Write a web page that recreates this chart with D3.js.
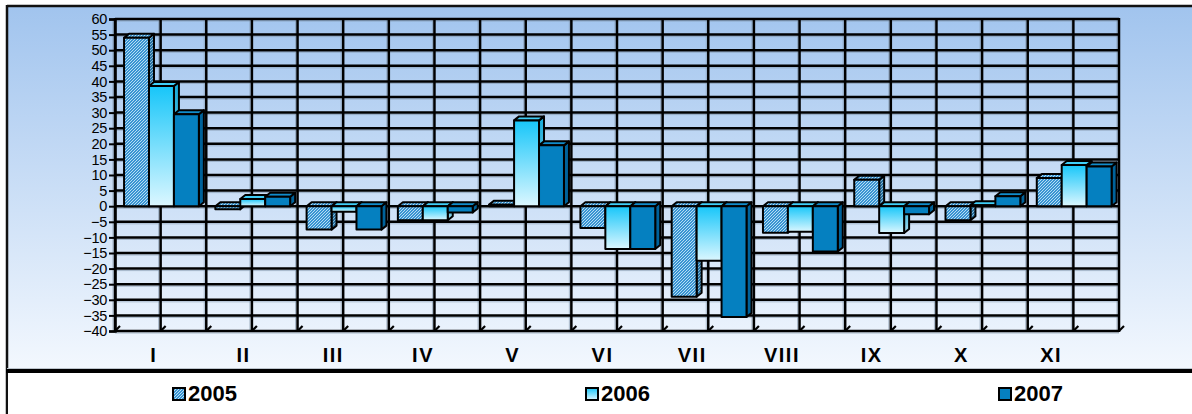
<!DOCTYPE html>
<html><head><meta charset="utf-8">
<script src="https://cdn.jsdelivr.net/npm/d3@7"></script>
<style>html,body{margin:0;padding:0;background:#fff;}svg{display:block;}</style>
</head><body>
<script>
const categories = ["I","II","III","IV","V","VI","VII","VIII","IX","X","XI"];
const series = ["2005","2006","2007"];
const values2005 = [54, -1, -7.5, -4.5, 0.5, -7, -29, -8.5, 8.5, -4.5, 9];
const values2006 = [38.5, 2.3, -1.8, -4.5, 27.5, -13.7, -17.5, -8.2, -8.6, 0.3, 13.2];
const values2007 = [29.5, 3, -7.5, -2, 19.5, -13.7, -35.5, -14.5, -2.6, 3.2, 12.7];
const yTicks = d3.range(-40, 61, 5);

(function(){
const W = 1192, H = 414;
const svg = d3.select("body").append("svg").attr("width", W).attr("height", H);
const defs = svg.append("defs");

const bg = defs.append("linearGradient").attr("id","bg").attr("x1",0).attr("y1",0).attr("x2",0).attr("y2",1);
bg.append("stop").attr("offset",0).attr("stop-color","#a1c4ee");
bg.append("stop").attr("offset",1).attr("stop-color","#f3f8fe");

function hatch(id, base, stripe) {
  const p = defs.append("pattern").attr("id",id).attr("patternUnits","userSpaceOnUse").attr("width",3).attr("height",3);
  p.append("rect").attr("width",3).attr("height",3).attr("fill",base);
  p.append("path").attr("d","M-1,1 l2,-2 M0,3 l3,-3 M2,4 l2,-2").attr("stroke",stripe).attr("stroke-width",0.9);
}
hatch("hatch","#3a94d2","#c4e6f8");
hatch("hatchDark","#27709f","#8fbfdc");

function vgrad(id, c1, c2) {
  const g = defs.append("linearGradient").attr("id",id).attr("x1",0).attr("y1",0).attr("x2",0).attr("y2",1);
  g.append("stop").attr("offset",0).attr("stop-color",c1);
  g.append("stop").attr("offset",1).attr("stop-color",c2);
}
vgrad("g2006","#17c6f9","#dcf7ff");
vgrad("g2006side","#12a9d8","#a8dcee");

const style = {
  "2005": {front:"url(#hatch)", top:"url(#hatch)", side:"url(#hatchDark)"},
  "2006": {front:"url(#g2006)", top:"#40cff8", side:"url(#g2006side)"},
  "2007": {front:"#0580c0", top:"#118ccb", side:"#00629a"}
};
const data = {"2005":values2005, "2006":values2006, "2007":values2007};

svg.append("rect").attr("x",7).attr("y",6).attr("width",W).attr("height",364).attr("fill","url(#bg)");
svg.append("line").attr("x1",7).attr("x2",W).attr("y1",6).attr("y2",6).attr("stroke","#111").attr("stroke-width",2.5);
svg.append("line").attr("x1",7).attr("x2",7).attr("y1",5).attr("y2",H).attr("stroke","#111").attr("stroke-width",2.5);
svg.append("rect").attr("x",8).attr("y",372).attr("width",W).attr("height",50).attr("fill","#fff");
svg.append("line").attr("x1",7).attr("x2",W).attr("y1",368.5).attr("y2",368.5).attr("stroke","#bcc4cc").attr("stroke-width",1);
svg.append("line").attr("x1",6).attr("x2",W).attr("y1",371).attr("y2",371).attr("stroke","#000").attr("stroke-width",4);

const pL = 115, pR = 1119, pT = 19, pB = 331;
const y = d3.scaleLinear().domain([-40, 60]).range([pB, pT]);
const x0 = d3.scaleBand().domain(categories).range([pL, pR]).padding(0);
const x1 = d3.scaleBand().domain(series).range([0, x0.bandwidth()]).paddingInner(0).paddingOuter(0.33).align(0.55);
const xl = d3.scaleBand().domain(categories).range([109, 1096]);

const grid = svg.append("g");
const vx = [];
categories.forEach(c => { vx.push(x0(c)); vx.push(x0(c) + x0.bandwidth()/2); });
vx.push(pR);
grid.selectAll(".hs").data(yTicks).join("line")
  .attr("x1",pL).attr("x2",pR).attr("y1",d=>y(d)+2).attr("y2",d=>y(d)+2)
  .attr("stroke","#7f93a8").attr("stroke-width",1).attr("opacity",0.6);
grid.selectAll(".vs").data(vx).join("line")
  .attr("x1",d=>d-2).attr("x2",d=>d-2).attr("y1",pT).attr("y2",pB)
  .attr("stroke","#7f93a8").attr("stroke-width",1).attr("opacity",0.6);
grid.selectAll(".h").data(yTicks).join("line")
  .attr("x1",pL).attr("x2",pR).attr("y1",d=>y(d)).attr("y2",d=>y(d))
  .attr("stroke","#000").attr("stroke-width",2.5);
grid.selectAll(".v").data(vx).join("line")
  .attr("x1",d=>d).attr("x2",d=>d).attr("y1",pT-1).attr("y2",pB+1)
  .attr("stroke","#000").attr("stroke-width",2.5);
grid.selectAll(".ft").data(vx).join("line")
  .attr("x1",d=>d).attr("x2",d=>d+5).attr("y1",pB).attr("y2",pB-5)
  .attr("stroke","#000").attr("stroke-width",2.2);

const yAxis = d3.axisLeft(y).tickValues(yTicks).tickSize(6).tickPadding(2);
const ya = svg.append("g").attr("transform",`translate(${pL},0)`).call(yAxis);
ya.select(".domain").attr("stroke","#000").attr("stroke-width",2.5);
ya.selectAll(".tick line").attr("stroke","#000").attr("stroke-width",2);
ya.selectAll(".tick text").attr("font-family","'Liberation Sans', Arial, sans-serif").attr("font-size","14.5px").attr("fill","#000").attr("letter-spacing","-0.3px");

const dx = 5, dy = 4;
const bars = svg.append("g").attr("stroke","#000").attr("stroke-width",2).attr("stroke-linejoin","round");
categories.forEach((c, i) => {
  series.forEach(s => {
    const v = data[s][i];
    const xa = x0(c) + x1(s), w = x1.bandwidth();
    const yt = Math.min(y(0), y(v)), yb = Math.max(y(0), y(v));
    const st = style[s];
    const g = bars.append("g");
    g.append("path").attr("d",`M${xa+w},${yt}L${xa+w+dx},${yt-dy}L${xa+w+dx},${yb-dy}L${xa+w},${yb}Z`).attr("fill",st.side);
    g.append("path").attr("d",`M${xa},${yt}L${xa+dx},${yt-dy}L${xa+w+dx},${yt-dy}L${xa+w},${yt}Z`).attr("fill",st.top);
    g.append("rect").attr("x",xa).attr("y",yt).attr("width",w).attr("height",Math.max(0.01,yb-yt)).attr("fill",st.front);
  });
});

svg.append("g").selectAll("text").data(categories).join("text")
  .attr("x",d=>xl(d)+xl.bandwidth()/2).attr("y",362)
  .attr("text-anchor","middle").attr("font-family","'Liberation Sans', Arial, sans-serif")
  .attr("font-size","20px").attr("letter-spacing","1.5px").attr("font-weight","bold").attr("fill","#000").text(d=>d);

const legendX = d3.scalePoint().domain(series).range([172, 998]);
const lg = svg.append("g").selectAll("g").data(series).join("g")
  .attr("transform",d=>`translate(${legendX(d)},387)`);
lg.append("rect").attr("x",1).attr("y",1).attr("width",12).attr("height",12)
  .attr("fill",d=>style[d].front).attr("stroke","#000").attr("stroke-width",2);
lg.append("text").attr("x",16).attr("y",14).attr("font-family","'Liberation Sans', Arial, sans-serif")
  .attr("font-size","22px").attr("font-weight","bold").attr("fill","#000").text(d=>d);
})();
</script>
</body></html>
